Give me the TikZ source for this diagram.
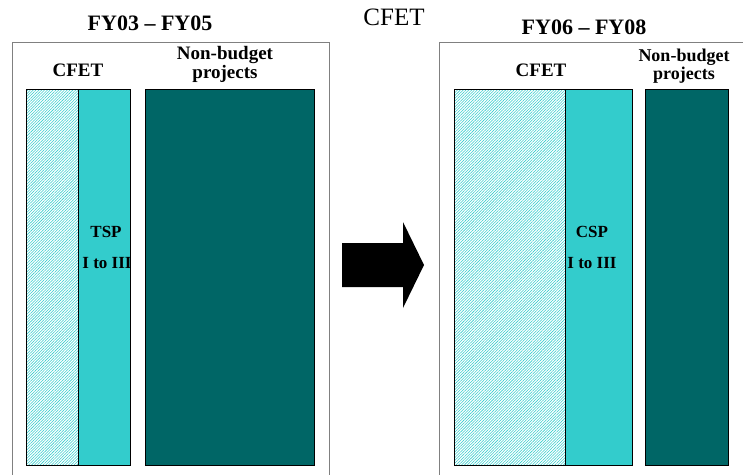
\documentclass[tikz,border=0pt]{standalone}
\usepackage{fontspec}
\setmainfont{Liberation Serif}
\usepackage{xcolor}
\usepackage{tikz}
\usetikzlibrary{positioning, patterns.meta}

\definecolor{cspcyan}{HTML}{33CCCC}
\definecolor{nbteal}{HTML}{006666}
\definecolor{framegray}{HTML}{808080}

\newcommand{\fs}[1]{\fontsize{#1}{#1}\selectfont}

\begin{document}
\begin{tikzpicture}[x=1pt, y=-1pt,
    period/.style={draw=framegray, line width=1pt, rectangle, anchor=north west, inner sep=0pt, minimum height=440pt},
    bar/.style={draw=black, line width=0.7pt, rectangle, anchor=north west, inner sep=0pt, minimum height=376pt},
    hatch/.style={bar, pattern={Lines[angle=45, distance=2pt, line width=0.55pt]}, pattern color=cspcyan},
    title/.style={font=\bfseries\fs{22}},
    lbl/.style={font=\bfseries\fs{19}, align=center},
    inlbl/.style={font=\bfseries\fs{17}}]

    \useasboundingbox (0,0) rectangle (743,474);
    \clip (0,0) rectangle (743,474);

    % Period frames
    \node[period, minimum width=317pt] (left) at (12,42) {};
    \node[period, minimum width=330pt] (right) at (439,42) {};

    % Headings
    \node[title] (fyA) at (150,23) {FY03 -- FY05};
    \node[title] (fyB) at (584,27) {FY06 -- FY08};
    \node[font=\fs{25}] (cfet) at (394,17) {CFET};

    % FY03 - FY05 bars
    \node[hatch, minimum width=52pt] (lhatch) at (26,89) {};
    \node[bar, fill=cspcyan, minimum width=52pt] (tsp) at (78,89) {};
    \node[bar, fill=nbteal, minimum width=169pt] (lnb) at (145,89) {};

    % FY06 - FY08 bars
    \node[hatch, minimum width=111pt] (rhatch) at (454,89) {};
    \node[bar, fill=cspcyan, minimum width=67pt] (csp) at (565,89) {};
    \node[bar, fill=nbteal, minimum width=83pt] (rnb) at (645,89) {};

    % Bar labels
    \node[lbl] (lcfet) at (78,70) {CFET};
    \node[lbl] (rcfet) at (541,70) {CFET};
    \node[lbl, font=\bfseries\fontsize{19}{19}\selectfont] (lnbl) at (225,64) {Non-budget\\projects};
    \node[lbl, font=\bfseries\fontsize{18}{18}\selectfont] (rnbl) at (684,66) {Non-budget\\projects};

    \node[inlbl] (tspa) at (106,232) {TSP};
    \node[inlbl] (tspb) at (107,263) {I to III};
    \node[inlbl] (cspa) at (592,232) {CSP};
    \node[inlbl] (cspb) at (592,263) {I to III};

    % Transition arrow
    \coordinate (arr) at (342,265);
    \fill[black] (arr) ++(0,-22) -- ++(61,0) -- ++(0,-21) -- ++(21,43)
        -- ++(-21,43) -- ++(0,-21) -- ++(-61,0) -- cycle;

\end{tikzpicture}
\end{document}
